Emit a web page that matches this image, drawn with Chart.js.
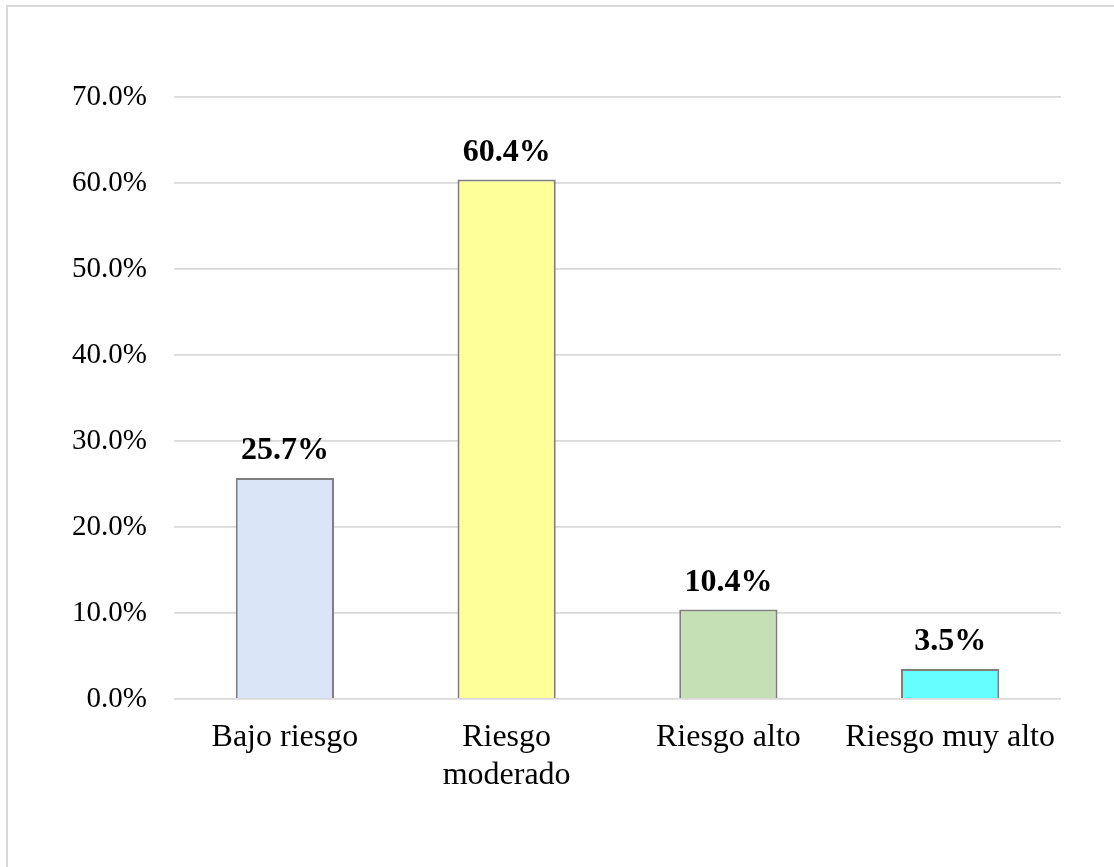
<!DOCTYPE html>
<html>
<head>
<meta charset="utf-8">
<script src="https://cdn.jsdelivr.net/npm/chart.js@4/dist/chart.umd.min.js"></script>
<style>
  html, body { margin: 0; padding: 0; background: #fff; }
  #wrap { width: 1114px; height: 867px; }
</style>
</head>
<body>
<div id="wrap"><canvas id="chart" width="1114" height="867"></canvas></div>
<script>
// categories and values
const categories = ['Bajo riesgo', ['Riesgo', 'moderado'], 'Riesgo alto', 'Riesgo muy alto'];
const percentages = [25.7, 60.4, 10.4, 3.5];
const barColors = ['#DAE5F8', '#FFFF99', '#C5E0B4', '#66FFFF'];
const yMin = 0;
const yMax = 70;
const yStep = 10;

const serif = '"Liberation Serif", "Times New Roman", serif';

// top/left frame line, like the cropped chart border
const framePlugin = {
  id: 'frame',
  beforeDraw(chart) {
    const c = chart.ctx;
    c.save();
    c.strokeStyle = '#d9d9d9';
    c.lineWidth = 2;
    c.beginPath();
    c.moveTo(7, chart.height);
    c.lineTo(7, 6);
    c.lineTo(chart.width, 6);
    c.stroke();
    c.restore();
  }
};

// bold value labels above every bar
const valueLabels = {
  id: 'valueLabels',
  afterDatasetsDraw(chart) {
    const c = chart.ctx;
    const meta = chart.getDatasetMeta(0);
    c.save();
    c.font = 'bold 32px ' + serif;
    c.fillStyle = '#000';
    c.textAlign = 'center';
    c.textBaseline = 'middle';
    meta.data.forEach((bar, i) => {
      c.fillText(percentages[i].toFixed(1) + '%', bar.x, bar.y - 27);
    });
    c.restore();
  }
};

let ctx = document.getElementById('chart').getContext('2d');
const chart = new Chart(ctx, {
  type: 'bar',
  data: {
    labels: categories,
    datasets: [{
      data: percentages,
      backgroundColor: barColors,
      borderColor: '#7f7f7f',
      borderWidth: 2,
      categoryPercentage: 1,
      barPercentage: 0.443
    }]
  },
  options: {
    responsive: false,
    animation: false,
    layout: { padding: { left: 20, right: 53, top: 97, bottom: 58 } },
    plugins: {
      legend: { display: false },
      tooltip: { enabled: false }
    },
    scales: {
      x: {
        grid: { display: false, drawTicks: false },
        border: { display: false },
        ticks: {
          color: '#000',
          padding: 20,
          maxRotation: 0,
          autoSkip: false,
          font: { family: serif, size: 32, lineHeight: 1.17 }
        },
        afterFit(scale) { scale.height = 110; }
      },
      y: {
        min: yMin,
        max: yMax,
        grid: { color: '#d9d9d9', lineWidth: 1.8, drawTicks: false },
        border: { display: false },
        ticks: {
          stepSize: yStep,
          color: '#000',
          padding: 27,
          font: { family: serif, size: 29 },
          callback: v => v.toFixed(1) + '%'
        },
        afterFit(scale) { scale.width = 154; }
      }
    }
  },
  plugins: [framePlugin, valueLabels]
});
</script>
</body>
</html>
